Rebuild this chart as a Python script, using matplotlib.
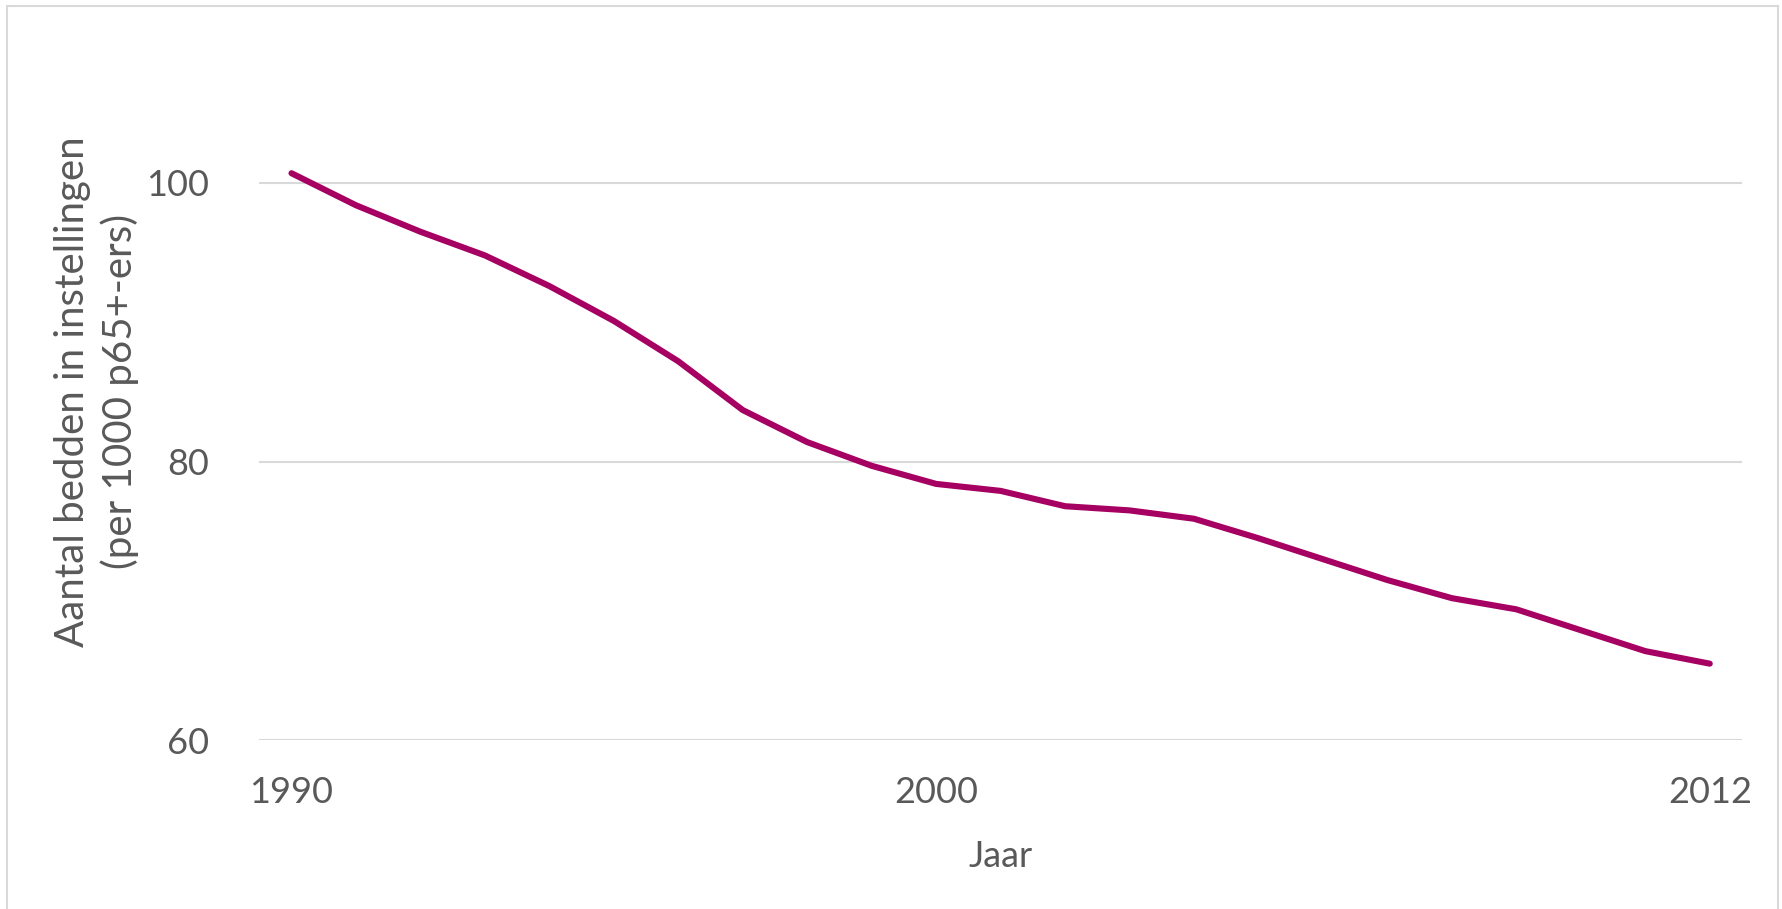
import matplotlib.pyplot as plt
import matplotlib.patches as patches

plt.rcParams['font.family'] = ['Lato', 'DejaVu Sans']

# bedden in instellingen per 1000 65-plussers, 1990-2012
jaren = list(range(1990, 2013))
bedden = [100.7, 98.4, 96.5, 94.8, 92.6, 90.1, 87.2, 83.7, 81.4, 79.7,
          78.4, 77.9, 76.8, 76.5, 75.9, 74.5, 73.0, 71.5, 70.2, 69.4,
          67.9, 66.4, 65.5]
tick_jaren = [1990, 2000, 2012]
y_ticks = [60, 80, 100]

grijs = '#595959'

fig = plt.figure(figsize=(17.83, 9.09), dpi=100)
ax = fig.add_axes([0.1454, 0.1856, 0.977 - 0.1454, 0.952 - 0.1856])

x = list(range(len(jaren)))
ax.plot(x, bedden, color='#A50062', linewidth=4.4, solid_capstyle='round',
        solid_joinstyle='round', zorder=3)

ax.set_xlim(-0.5, len(jaren) - 0.5)
ax.set_ylim(60, 110)
ax.set_yticks(y_ticks)
ax.set_xticks([jaren.index(j) for j in tick_jaren])
ax.set_xticklabels([str(j) for j in tick_jaren])

ax.grid(axis='y', color='#D9D9D9', linewidth=1.5)
ax.set_axisbelow(True)
for s in ax.spines.values():
    s.set_visible(False)
ax.tick_params(length=0, labelsize=26, colors=grijs)
ax.tick_params(axis='y', pad=36)
ax.tick_params(axis='x', pad=26)

ax.set_xlabel('Jaar', fontsize=26, color=grijs, labelpad=22)
ax.set_ylabel('Aantal bedden in instellingen\n(per 1000 p65+-ers)',
              fontsize=29, color=grijs, linespacing=1.3, va='center')
ax.yaxis.set_label_coords(-0.1095, 0.5)

# lichte rand rond de grafiek
fig.patches.append(patches.Rectangle((7 / 1783, -0.05), 1771 / 1783, 1.05 - 6 / 909,
                                     transform=fig.transFigure, fill=False,
                                     edgecolor='#D9D9D9', linewidth=1.5))

fig.savefig('out.png', dpi=100, facecolor='white')
